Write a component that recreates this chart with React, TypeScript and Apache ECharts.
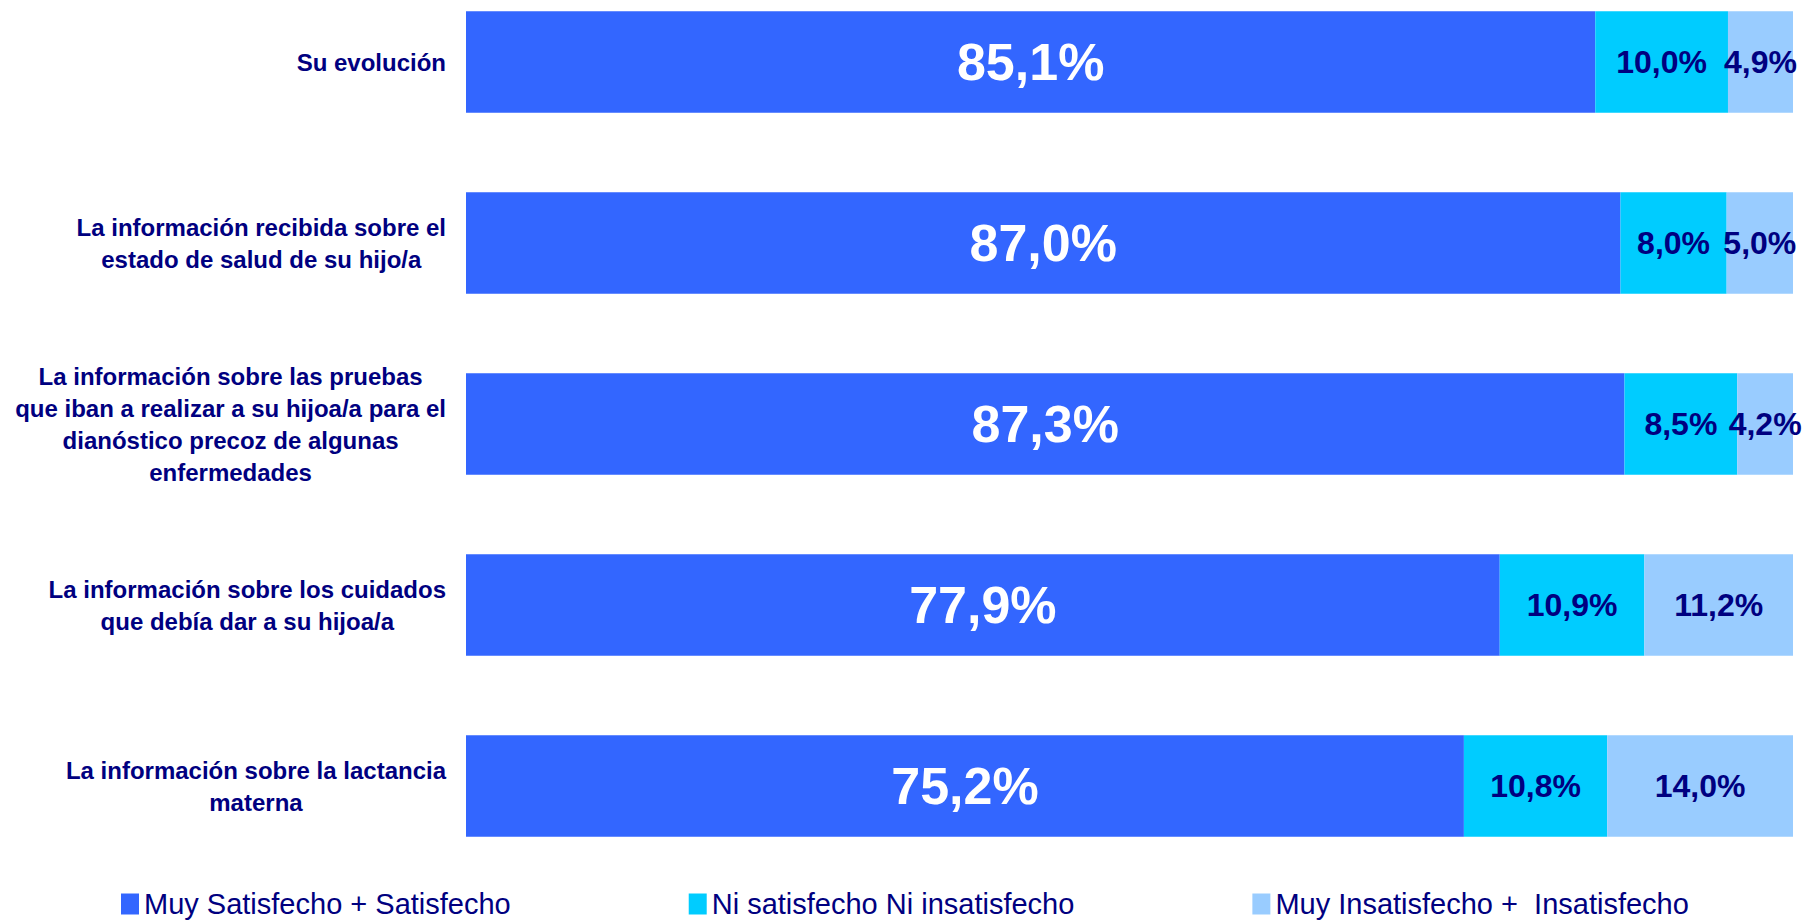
import React, { useEffect, useRef } from "react";
import * as echarts from "echarts";

const categories = [
  "Su evolución",
  "La información recibida sobre el\nestado de salud de su hijo/a",
  "La información sobre las pruebas\nque iban a realizar a su hijoa/a para el\ndianóstico precoz de algunas\nenfermedades",
  "La información sobre los cuidados\nque debía dar a su hijoa/a",
  "La información sobre la lactancia\nmaterna",
];

const seriesNames = [
  "Muy Satisfecho + Satisfecho",
  "Ni satisfecho Ni insatisfecho",
  "Muy Insatisfecho +  Insatisfecho",
];

const satisfied = [85.1, 87.0, 87.3, 77.9, 75.2];
const neutral = [10.0, 8.0, 8.5, 10.9, 10.8];
const unsatisfied = [4.9, 5.0, 4.2, 11.2, 14.0];

const colors = ["#3366FF", "#00CCFF", "#99CCFF"];
const NAVY = "#000080";
const FONT = "'Liberation Sans', Arial, sans-serif";

const fmt = (v: number) => v.toFixed(1).replace(".", ",") + "%";

export default function App() {
  const ref = useRef<HTMLDivElement>(null);
  useEffect(() => {
    if (!ref.current) return;
    const chart = echarts.init(ref.current, undefined, { renderer: "svg" });
    const data = [satisfied, neutral, unsatisfied];
    chart.setOption({
      animation: false,
      textStyle: { fontFamily: FONT },
      grid: {
        left: 466,
        width: 1327,
        top: -28.5,
        height: 905,
        outerBoundsMode: "none",
        containLabel: false,
      },
      xAxis: {
        type: "value",
        min: 0,
        max: 100,
        show: false,
      },
      yAxis: {
        type: "category",
        inverse: true,
        data: categories,
        axisLine: { show: false },
        axisTick: { show: false },
        axisLabel: {
          margin: 20,
          align: "right",
          formatter: (v: string) =>
            v
              .split("\n")
              .map((l) => `{c|${l}}`)
              .join("\n"),
          rich: {
            c: {
              align: "center",
              color: NAVY,
              fontSize: 24,
              fontWeight: "bold",
              fontFamily: FONT,
              lineHeight: 32,
            },
          },
        },
      },
      legend: {
        left: 116,
        top: 884,
        icon: "rect",
        itemWidth: 18,
        itemHeight: 21,
        itemGap: 178,
        textStyle: { color: NAVY, fontSize: 29, fontFamily: FONT, lineHeight: 30 },
        data: seriesNames,
      },
      series: seriesNames.map((name, i) => ({
        name,
        type: "bar",
        stack: "total",
        barWidth: 101.5,
        data: data[i],
        itemStyle: { color: colors[i] },
        label: {
          show: true,
          position: "inside",
          formatter: (p: any) => fmt(p.value),
          color: i === 0 ? "#FFFFFF" : NAVY,
          fontSize: i === 0 ? 52 : 32,
          fontWeight: "bold",
          fontFamily: FONT,
        },
      })),
    });
    return () => chart.dispose();
  }, []);
  return (
    <div
      ref={ref}
      style={{ position: "fixed", left: 0, top: 0, width: 1804, height: 920, background: "#fff" }}
    />
  );
}
